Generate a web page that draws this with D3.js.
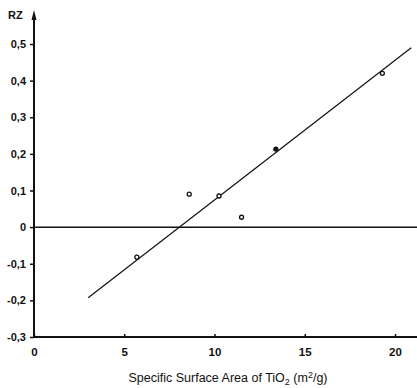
<!DOCTYPE html>
<html>
<head>
<meta charset="utf-8">
<script src="https://cdn.jsdelivr.net/npm/d3@7"></script>
<style>
  body { margin: 0; background: #fff; }
  text { font-family: "Liberation Sans", Arial, sans-serif; fill: #111; }
</style>
</head>
<body>
<div id="chart"></div>
<script>
// measured points (specific surface area, RZ)
const areaValues = [5.7, 8.6, 10.25, 11.5, 13.4, 19.3];
const rzValues = [-0.082, 0.09, 0.085, 0.027, 0.213, 0.42];
const filledPoint = [false, false, false, false, true, false];
// regression line end points
const fitX = [3.0, 20.9];
const fitY = [-0.193, 0.49];
const xTicks = [0, 5, 10, 15, 20];
const yTicks = [-0.3, -0.2, -0.1, 0, 0.1, 0.2, 0.3, 0.4, 0.5];

const width = 417, height = 388;

const svg = d3.select("#chart").append("svg")
  .attr("width", width)
  .attr("height", height);

const x = d3.scaleLinear().domain([0, 20]).range([34, 395]);
const y = d3.scaleLinear().domain([-0.3, 0.5]).range([337, 44]);

const fmt = d => d === 0 ? "0" : d3.format(".1f")(d).replace("−", "-").replace(".", ",");

// y axis
const yAxis = d3.axisLeft(y).tickValues(yTicks).tickSize(4).tickFormat(fmt);
const gy = svg.append("g").attr("transform", `translate(${x(0)},0)`).call(yAxis);
gy.select(".domain").remove();
gy.selectAll(".tick line").attr("stroke", "#111").attr("stroke-width", 1.5);
gy.selectAll(".tick text").attr("x", -8).style("font-size", "11px").style("font-weight", "bold");

svg.append("line")
  .attr("x1", x(0)).attr("x2", x(0))
  .attr("y1", y(-0.3)).attr("y2", 14)
  .attr("stroke", "#111").attr("stroke-width", 2);
svg.append("path")
  .attr("d", `M${x(0) - 2.5},20 L${x(0)},10 L${x(0) + 2.5},20 Z`)
  .attr("fill", "#111");
svg.append("text")
  .attr("x", 8).attr("y", 19)
  .style("font-size", "11px").style("font-weight", "bold")
  .text("RZ");

// x axis
const xAxis = d3.axisTop(x).tickValues(xTicks).tickSize(3).tickFormat(d3.format("d"));
const gx = svg.append("g").attr("transform", `translate(0,${y(-0.3)})`).call(xAxis);
gx.select(".domain").remove();
gx.selectAll(".tick line").attr("stroke", "#111").attr("stroke-width", 1.5);
gx.selectAll(".tick text").attr("y", 19).attr("dy", 0)
  .style("font-size", "11.5px").style("font-weight", "bold");

svg.append("line")
  .attr("x1", x(0)).attr("x2", width)
  .attr("y1", y(-0.3)).attr("y2", y(-0.3))
  .attr("stroke", "#111").attr("stroke-width", 2);

// zero line
svg.append("line")
  .attr("x1", x(0)).attr("x2", width)
  .attr("y1", y(0)).attr("y2", y(0))
  .attr("stroke", "#111").attr("stroke-width", 1.5);

// regression line
svg.append("line")
  .attr("x1", x(fitX[0])).attr("y1", y(fitY[0]))
  .attr("x2", x(fitX[1])).attr("y2", y(fitY[1]))
  .attr("stroke", "#111").attr("stroke-width", 1.2);

// points
svg.selectAll("circle.pt")
  .data(areaValues.map((a, i) => ({ a, rz: rzValues[i], filled: filledPoint[i] })))
  .enter().append("circle")
  .attr("class", "pt")
  .attr("cx", d => x(d.a))
  .attr("cy", d => y(d.rz))
  .attr("r", 2)
  .attr("fill", d => d.filled ? "#111" : "#fff")
  .attr("stroke", "#111")
  .attr("stroke-width", 1.3);

// axis title
const title = svg.append("text")
  .attr("x", 228).attr("y", 382)
  .attr("text-anchor", "middle")
  .style("font-size", "12.5px");
title.append("tspan").text("Specific Surface Area of TiO");
title.append("tspan").attr("dy", 3).style("font-size", "9px").text("2");
title.append("tspan").attr("dy", -3).text(" (m");
title.append("tspan").attr("dy", -4).style("font-size", "9px").text("2");
title.append("tspan").attr("dy", 4).text("/g)");
</script>
</body>
</html>
